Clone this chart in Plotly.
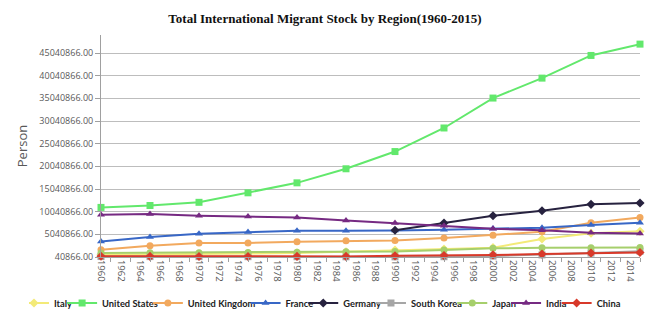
import plotly.graph_objects as go

years = [1960, 1965, 1970, 1975, 1980, 1985, 1990, 1995, 2000, 2005, 2010, 2015]

italy = [550000, 600000, 700000, 800000, 950000, 1200000, 1600000, 1800000, 2100000, 4000000, 5300000, 5700000]
united_states = [10980000, 11400000, 12100000, 14200000, 16400000, 19500000, 23300000, 28500000, 35100000, 39500000, 44500000, 47000000]
united_kingdom = [1650000, 2530000, 3130000, 3150000, 3420000, 3640000, 3700000, 4230000, 4850000, 5600000, 7600000, 8780000]
france = [3480000, 4450000, 5180000, 5550000, 5840000, 5840000, 5860000, 6060000, 6300000, 6500000, 7100000, 7600000]
germany = [None, None, None, None, None, None, 5950000, 7540000, 9150000, 10250000, 11650000, 11950000]
south_korea = [140000, 130000, 120000, 110000, 100000, 90000, 70000, 100000, 250000, 500000, 900000, 1300000]
japan = [950000, 1000000, 1000000, 1050000, 1100000, 1200000, 1280000, 1600000, 1950000, 2090000, 2100000, 2160000]
india = [9370000, 9500000, 9150000, 9000000, 8780000, 8100000, 7540000, 6950000, 6280000, 5950000, 5380000, 5200000]
china = [200000, 170000, 150000, 150000, 170000, 170000, 300000, 350000, 500000, 680000, 900000, 1050000]

y_ticks = [40866, 5040866, 10040866, 15040866, 20040866, 25040866,
           30040866, 35040866, 40040866, 45040866]
x_ticks = list(range(1960, 2015, 2))
x_minor = list(range(1961, 2016, 2))

series = [
    ("Italy", italy, "#F3EA78", "diamond"),
    ("United States", united_states, "#62E86C", "square"),
    ("United Kingdom", united_kingdom, "#F2A95E", "circle"),
    ("France", france, "#3867C6", "triangle-up"),
    ("Germany", germany, "#27223F", "diamond"),
    ("South Korea", south_korea, "#A6A6A6", "square"),
    ("Japan", japan, "#A6CF6C", "circle"),
    ("India", india, "#762A82", "triangle-up"),
    ("China", china, "#D8392A", "diamond"),
]

fig = go.Figure()
for name, vals, color, sym in series:
    fig.add_trace(go.Scatter(
        x=years, y=vals, name=name, mode="lines+markers",
        line=dict(color=color, width=2),
        marker=dict(color=color, size=7, symbol=sym),
        cliponaxis=False,
    ))

fig.update_layout(
    template="none",
    width=650, height=316,
    margin=dict(l=101, r=10, t=35, b=59, autoexpand=False),
    paper_bgcolor="white", plot_bgcolor="white",
    title=dict(
        text="<b>Total International Migrant Stock by Region(1960-2015)</b>",
        x=0.5, xref="container", xanchor="center",
        y=0.942, yref="container", yanchor="middle",
        font=dict(family="Liberation Serif, Times New Roman, serif", size=13, color="#111111"),
    ),
    xaxis=dict(
        automargin=False,
        range=[1960, 2015],
        tickmode="array", tickvals=x_ticks, ticktext=[str(v) for v in x_ticks],
        tickangle=90,
        ticks="", showgrid=False,
        showline=True, linecolor="#A0A0A0", linewidth=1,
        tickfont=dict(family="Open Sans, DejaVu Sans, sans-serif", size=9.5, color="#595959"),
        minor=dict(tickmode="array", tickvals=x_minor, ticks="outside", ticklen=4,
                   tickcolor="#A0A0A0", showgrid=False),
        zeroline=False,
    ),
    yaxis=dict(
        automargin=False,
        range=[40866, 49010866],
        tickmode="array", tickvals=y_ticks, tickformat=".2f",
        ticks="outside", ticklen=5, tickcolor="#A0A0A0",
        showgrid=True, gridcolor="#BDBDBD", gridwidth=1,
        showline=True, linecolor="#A0A0A0", linewidth=1,
        zeroline=False,
        tickfont=dict(family="Open Sans, DejaVu Sans, sans-serif", size=9, color="#595959"),
        title=dict(text="Person", standoff=8,
                   font=dict(family="Open Sans, DejaVu Sans, sans-serif", size=13, color="#595959")),
    ),
    legend=dict(
        orientation="h", x=-0.1336, xanchor="left", y=-0.207, yanchor="middle",
        font=dict(family="Lato, Liberation Sans, sans-serif", size=9.3, color="#222222", weight=700),
        indentation=-15, itemwidth=30, bgcolor="rgba(0,0,0,0)",
    ),
    showlegend=True,
)

fig.write_html("out.html", config={"displayModeBar": False},
               post_script="document.body.style.margin='0';")
